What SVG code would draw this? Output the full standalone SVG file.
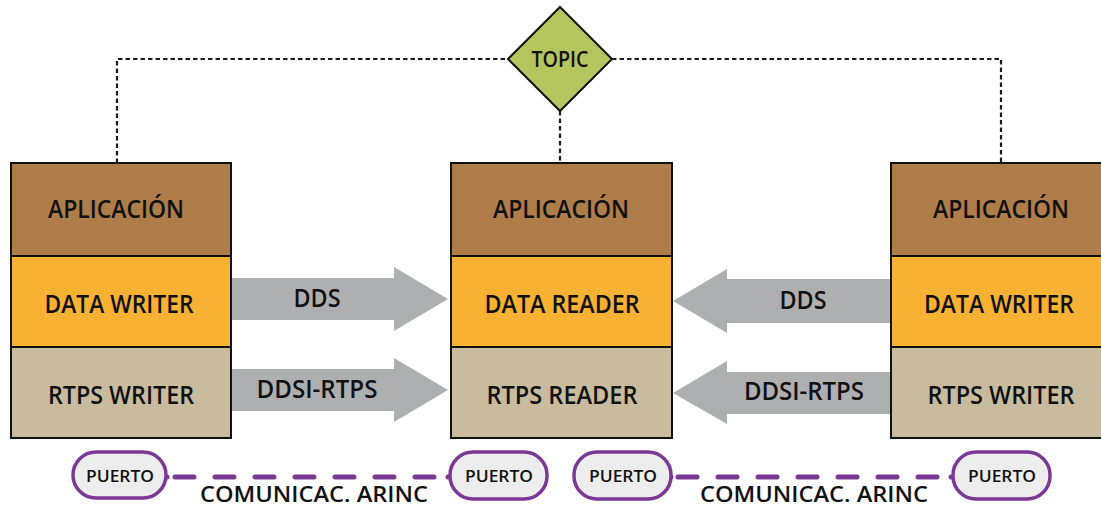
<svg xmlns="http://www.w3.org/2000/svg" width="1101" height="508" viewBox="0 0 1101 508">
<style>
.t{font-family:"Open Sans","Noto Sans","Liberation Sans",sans-serif;font-weight:600;fill:#111;text-anchor:middle}
.big{font-size:25px}
.app{fill:#AE7D4A;stroke:#111;stroke-width:2}
.dw{fill:#F7B233;stroke:#111;stroke-width:2}
.rt{fill:#C9BB9E;stroke:#111;stroke-width:2}
.arr{fill:#AEAFB1}
.dot{fill:none;stroke:#1a1a1a;stroke-width:2.2;stroke-dasharray:4.5 3}
.port{fill:#EDEDED;stroke:#7B3996;stroke-width:3.5}
.link{fill:none;stroke:#7B3996;stroke-width:5;stroke-linecap:round;stroke-dasharray:19 21}
.pt{font-size:17px}
.lab{font-size:22px}
</style>
<g id="connectors">
<polyline class="dot" points="117,163 117,59 508,59"/>
<polyline class="dot" points="612,59 1001,59 1001,163"/>
<line class="dot" x1="560" y1="111" x2="560" y2="163"/>
<polygon class="arr" points="232,278 394,278 394,267 448,299 394,331 394,320 232,320"/>
<polygon class="arr" points="232,369 394,369 394,358 448,390 394,422 394,411 232,411"/>
<polygon class="arr" points="890,279 727,279 727,269 673,301 727,333 727,323 890,323"/>
<polygon class="arr" points="890,372 727,372 727,361 673,393 727,424 727,414 890,414"/>
<text class="t big" x="317" y="307" textLength="47" lengthAdjust="spacingAndGlyphs">DDS</text>
<text class="t big" x="317" y="398" textLength="121" lengthAdjust="spacingAndGlyphs">DDSI-RTPS</text>
<text class="t big" x="803" y="309" textLength="47" lengthAdjust="spacingAndGlyphs">DDS</text>
<text class="t big" x="804" y="400" textLength="120" lengthAdjust="spacingAndGlyphs">DDSI-RTPS</text>
<path class="link" d="M175,477 H445"/>
<path class="link" d="M678,477 H948"/>
<circle cx="167" cy="477" r="2.5" fill="#7B3996"/>
<circle cx="448" cy="477" r="2.5" fill="#7B3996"/>
<circle cx="671" cy="477" r="2.5" fill="#7B3996"/>
<circle cx="951" cy="477" r="2.5" fill="#7B3996"/>
<text class="t lab" x="314" y="502" textLength="228" lengthAdjust="spacingAndGlyphs">COMUNICAC. ARINC</text>
<text class="t lab" x="814" y="502" textLength="228" lengthAdjust="spacingAndGlyphs">COMUNICAC. ARINC</text>
</g>
<g id="topic">
<polygon points="560,7 612,59 560,111 508,59" fill="#B5C55E" stroke="#111" stroke-width="2"/>
<text class="t" font-size="21" x="560" y="67" textLength="57" lengthAdjust="spacingAndGlyphs">TOPIC</text>
</g>
<g id="stack-left">
<rect class="app" x="11" y="163" width="220" height="93"/>
<rect class="dw" x="11" y="256" width="220" height="91"/>
<rect class="rt" x="11" y="347" width="220" height="91"/>
<text class="t big" x="116" y="218" textLength="136" lengthAdjust="spacingAndGlyphs">APLICACIÓN</text>
<text class="t big" x="119" y="313" textLength="149" lengthAdjust="spacingAndGlyphs">DATA WRITER</text>
<text class="t big" x="121" y="404" textLength="146" lengthAdjust="spacingAndGlyphs">RTPS WRITER</text>
</g>
<g id="stack-middle">
<rect class="app" x="451" y="163" width="221" height="93"/>
<rect class="dw" x="451" y="256" width="221" height="91"/>
<rect class="rt" x="451" y="347" width="221" height="91"/>
<text class="t big" x="561" y="218" textLength="136" lengthAdjust="spacingAndGlyphs">APLICACIÓN</text>
<text class="t big" x="562" y="313" textLength="155" lengthAdjust="spacingAndGlyphs">DATA READER</text>
<text class="t big" x="562" y="404" textLength="151" lengthAdjust="spacingAndGlyphs">RTPS READER</text>
</g>
<g id="stack-right">
<rect class="app" x="891" y="163" width="215" height="93"/>
<rect class="dw" x="891" y="256" width="215" height="91"/>
<rect class="rt" x="891" y="347" width="215" height="91"/>
<text class="t big" x="1001" y="218" textLength="136" lengthAdjust="spacingAndGlyphs">APLICACIÓN</text>
<text class="t big" x="999" y="313" textLength="150" lengthAdjust="spacingAndGlyphs">DATA WRITER</text>
<text class="t big" x="1001" y="404" textLength="147" lengthAdjust="spacingAndGlyphs">RTPS WRITER</text>
</g>
<g id="port-1"><rect class="port" x="73" y="452" width="93" height="46" rx="23"/><text class="t pt" x="120" y="482" textLength="68" lengthAdjust="spacingAndGlyphs">PUERTO</text></g>
<g id="port-2"><rect class="port" x="450" y="452" width="97" height="47" rx="23"/><text class="t pt" x="499" y="482" textLength="68" lengthAdjust="spacingAndGlyphs">PUERTO</text></g>
<g id="port-3"><rect class="port" x="574" y="452" width="97" height="47" rx="23"/><text class="t pt" x="623" y="482" textLength="68" lengthAdjust="spacingAndGlyphs">PUERTO</text></g>
<g id="port-4"><rect class="port" x="953" y="452" width="97" height="47" rx="23"/><text class="t pt" x="1002" y="482" textLength="68" lengthAdjust="spacingAndGlyphs">PUERTO</text></g>
</svg>
